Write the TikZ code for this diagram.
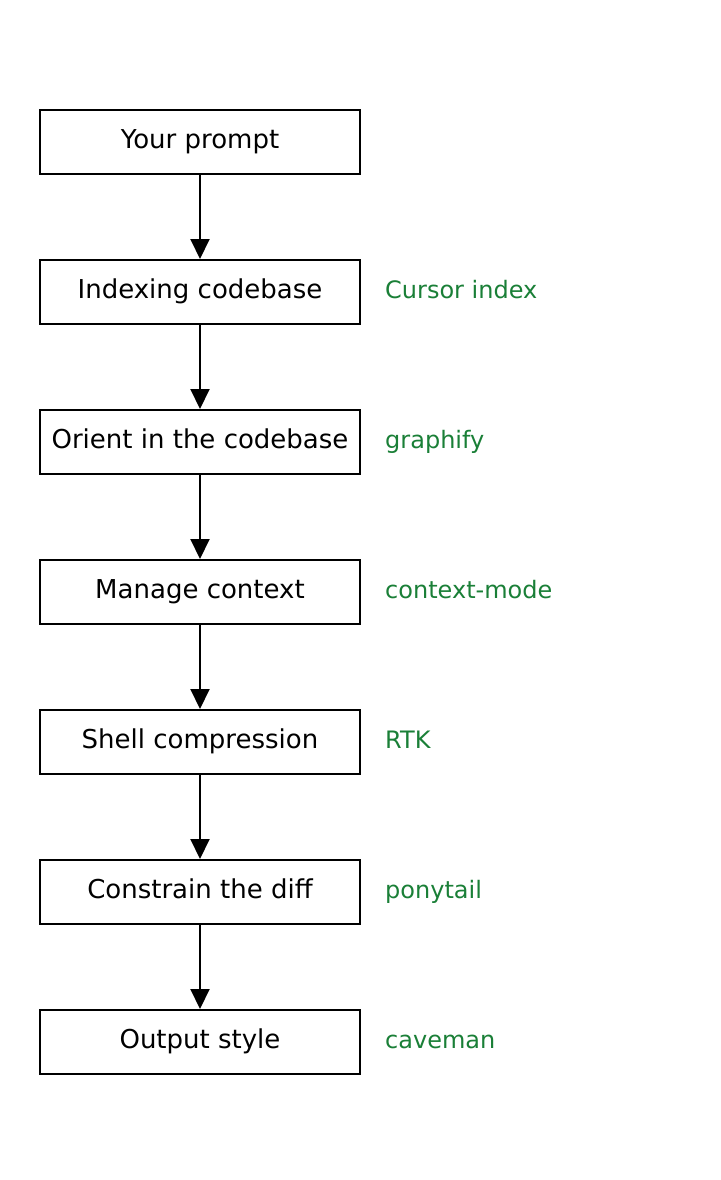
\documentclass[tikz,border=0pt]{standalone}
\usepackage{fontspec}
\setmainfont{DejaVu Sans}
\usetikzlibrary{positioning,arrows.meta}
\definecolor{toolgreen}{HTML}{1A7F37}
\tikzset{
	stage/.style={draw=black, line width=2pt, minimum width=320pt, minimum height=64pt,
		inner sep=0pt, text height=18pt, text depth=5pt, font=\fontsize{26}{30}\selectfont},
	tool/.style={anchor=west, text=toolgreen, inner sep=0pt, text height=17pt, text depth=5pt,
		font=\fontsize{24}{28}\selectfont},
	flow/.style={line width=2pt, -{Triangle[length=20pt,width=19pt]}}
}
\begin{document}
\begin{tikzpicture}[x=1pt, y=-1pt]
	\useasboundingbox (0,0) rectangle (720,1180);
	% Schritte
	\node[stage] (prompt) at (200,142) {Your prompt};
	\node[stage, below=84pt of prompt] (index) {Indexing codebase};
	\node[stage, below=84pt of index] (orient) {Orient in the codebase};
	\node[stage, below=84pt of orient] (context) {Manage context};
	\node[stage, below=84pt of context] (shell) {Shell compression};
	\node[stage, below=84pt of shell] (diff) {Constrain the diff};
	\node[stage, below=84pt of diff] (output) {Output style};
	% Werkzeuge
	\node[tool] (cursor) at (385,292) {Cursor index};
	\node[tool] (graphify) at (385,442) {graphify};
	\node[tool] (ctxmode) at (385,592) {context-mode};
	\node[tool] (rtk) at (385,742) {RTK};
	\node[tool] (ponytail) at (385,892) {ponytail};
	\node[tool] (caveman) at (385,1042) {caveman};
	% Pfeile
	\draw[flow] (prompt) -- (index);
	\draw[flow] (index) -- (orient);
	\draw[flow] (orient) -- (context);
	\draw[flow] (context) -- (shell);
	\draw[flow] (shell) -- (diff);
	\draw[flow] (diff) -- (output);
\end{tikzpicture}
\end{document}
